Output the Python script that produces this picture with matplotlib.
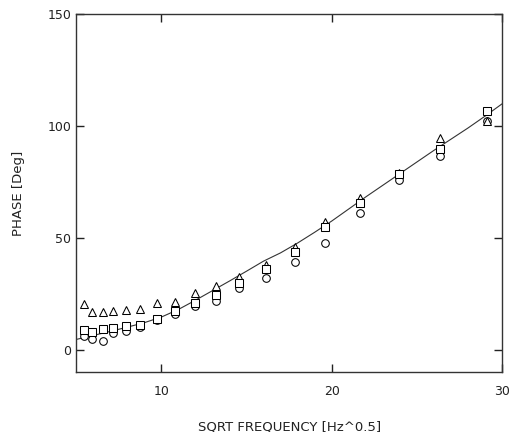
import matplotlib.pyplot as plt

plt.rcParams['font.family'] = ['DejaVu Sans']

# sqrt frequency of each measurement
sqrt_freq = [5.45, 5.95, 6.56, 7.15, 7.95, 8.76, 9.75, 10.82, 11.96,
             13.24, 14.55, 16.16, 17.82, 19.6, 21.66, 23.96, 26.37, 29.12]

phase_tri = [20.4, 16.7, 17.0, 17.3, 17.6, 18.1, 20.8, 21.1, 25.2,
             28.3, 32.2, 38.0, 46.0, 57.1, 67.5, 78.8, 94.5, 101.9]
phase_sq = [8.9, 7.8, 9.2, 9.8, 10.4, 11.2, 13.5, 17.3, 21.0,
            24.5, 29.7, 35.8, 43.7, 54.6, 65.6, 78.6, 89.4, 106.4]
phase_circ = [6.0, 4.6, 3.9, 7.2, 8.3, 10.3, 13.2, 15.8, 19.4,
              21.7, 27.5, 31.9, 39.3, 47.8, 60.8, 75.7, 86.3, 101.9]

# fitted curve
fit_x = [5, 6, 7, 8, 9, 10, 11, 12, 13, 14, 15, 16, 17, 18, 19, 20,
         21, 22, 23, 24, 25, 26, 27, 28, 29, 30]
fit_y = [4.5, 6.3, 8.1, 10.0, 12.0, 14.5, 17.9, 22.0, 26.3, 30.6, 35.0, 39.5, 43.2,
         47.6, 52.4, 57.4, 62.8, 68.2, 73.4, 78.6, 83.8, 89.0, 94.0, 99.0, 104.3, 109.8]

fig = plt.figure(figsize=(5.15, 4.32), dpi=100)
ax = fig.add_axes([0.1476, 0.139, 0.8274, 0.829])

ax.plot(fit_x, fit_y, "-", color="#333333", lw=0.8, zorder=1)
mk = dict(linestyle="none", markerfacecolor="white", markeredgecolor="black",
          markeredgewidth=0.75, zorder=2)
ax.plot(sqrt_freq, phase_circ, marker="o", markersize=5.5, **mk)
ax.plot(sqrt_freq, phase_tri, marker="^", markersize=6, **mk)
ax.plot(sqrt_freq, phase_sq, marker="s", markersize=5.5, **mk)

ax.set_xlim(5, 30)
ax.set_ylim(-10, 150)
ax.set_xticks([10, 20, 30])
ax.set_yticks([0, 50, 100, 150])
ax.tick_params(direction="in", length=6, width=1, top=True, right=True,
               labelsize=9, colors="#222222")
ax.tick_params(axis="x", pad=9.5)
ax.tick_params(axis="y", pad=3.5)
for s in ax.spines.values():
    s.set_color("#333333")
    s.set_linewidth(1)

ax.set_xlabel("SQRT FREQUENCY [Hz^0.5]", fontsize=9.5, color="#222222", labelpad=16)
ax.set_ylabel("PHASE [Deg]", fontsize=9.5, color="#222222", labelpad=16)

fig.savefig("out.png", dpi=100)
